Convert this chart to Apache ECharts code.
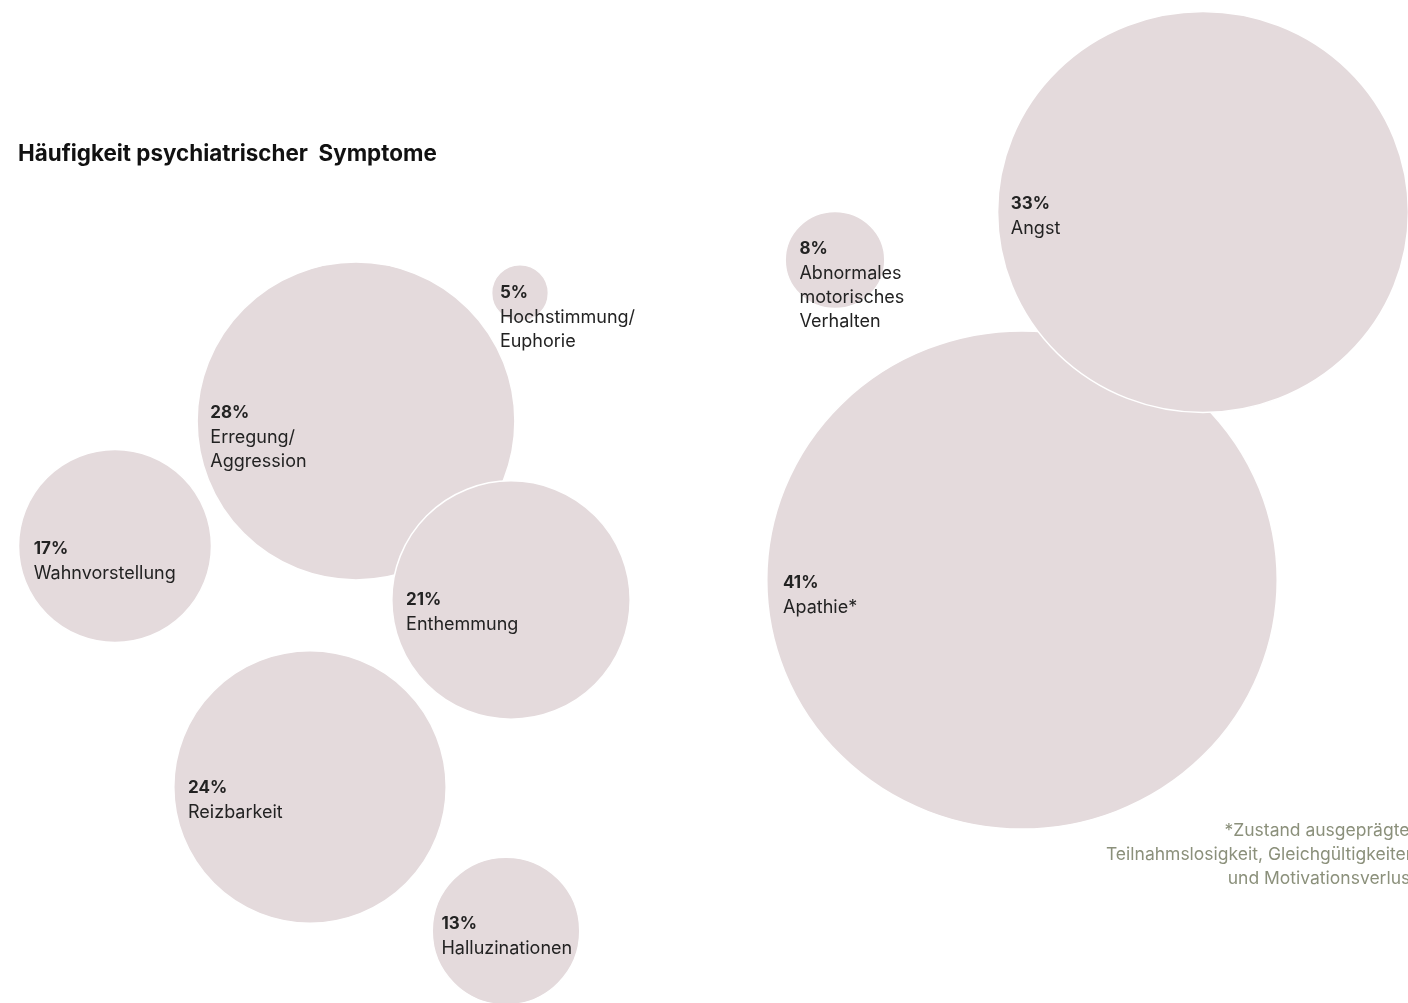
<!DOCTYPE html>
<html>
<head>
<meta charset="utf-8">
<script src="https://cdn.jsdelivr.net/npm/echarts@6/dist/echarts.min.js"></script>
<style>
html,body{margin:0;padding:0;background:#fff;}
#chart{width:1408px;height:1003px;}
</style>
</head>
<body>
<div id="chart"></div>
<script>
// ---- data ----
const titleText = 'Häufigkeit psychiatrischer  Symptome';
const footnoteLines = ['*Zustand ausgeprägter', 'Teilnahmslosigkeit, Gleichgültigkeiten', 'und Motivationsverlust'];

// left cluster (drawing order matters: later items on top)
const leftNames  = ['Wahnvorstellung', 'Erregung/\nAggression', 'Enthemmung', 'Hochstimmung/\nEuphorie', 'Reizbarkeit', 'Halluzinationen'];
const leftValues = [17, 28, 21, 5, 24, 13];
// right cluster
const rightNames  = ['Abnormales\nmotorisches\nVerhalten', 'Apathie*', 'Angst'];
const rightValues = [8, 41, 33];

// ---- layout (bubble centres in page pixels, label nudges) ----
const leftPosX = [115, 356, 511, 520, 310, 506];
const leftPosY = [546, 421, 600, 293, 787, 931];
const leftLabelPad = [16, 14, 15, 9, 15, 10];
const leftLabelDy  = [4, -7, 1, 1, 2, -6];
const rightPosX = [835, 1022, 1203];
const rightPosY = [260, 580, 212];
const rightLabelPad = [15, 17, 14];
const rightLabelDy  = [-10, 4, -7];

const LEFT_SCALE = 11.35;            // px diameter per percent
const RIGHT_SCALE = [12.45, 12.15];  // right panel drawn slightly larger

const FILL = '#e4dadc';
const TXT = '#222222';

function buildData(names, values, px, py, pads, dys, sizeFn) {
  return values.map((v, i) => {
    const s = sizeFn(v);
    const h = Array.isArray(s) ? s[1] : s;
    return {
      name: names[i],
      value: [px[i], py[i], v],
      label: { position: [pads[i], h / 2 - 12 + dys[i]] }
    };
  });
}

const labelCfg = {
  show: true,
  align: 'left',
  verticalAlign: 'top',
  formatter: p => '{p|' + p.value[2] + '%}\n{n|' + p.name.split('\n').join('}\n{n|') + '}',
  rich: {
    p: { fontFamily: 'Inter', fontWeight: 'bold', fontSize: 17, lineHeight: 24, color: TXT },
    n: { fontFamily: 'Inter', fontWeight: 'normal', fontSize: 18, lineHeight: 24, color: TXT }
  }
};

const leftSize = v => v * LEFT_SCALE;
const rightSize = v => [v * RIGHT_SCALE[0], v * RIGHT_SCALE[1]];

const footGraphics = footnoteLines.map((t, i) => ({
  type: 'text', x: 1416, y: 831 + i * 24,
  style: {
    text: t, textAlign: 'right', textVerticalAlign: 'middle', align: 'right', verticalAlign: 'middle',
    font: '17.5px Inter', fill: '#8b907b'
  }
}));

const chart = echarts.init(document.getElementById('chart'), null, { renderer: 'canvas' });
chart.setOption({
  backgroundColor: '#ffffff',
  animation: false,
  grid: { left: 0, right: 0, top: 0, bottom: 0 },
  xAxis: { type: 'value', min: 0, max: 1408, show: false },
  yAxis: { type: 'value', min: 0, max: 1003, inverse: true, show: false },
  title: {
    text: titleText, left: 18, top: 143, padding: 0,
    textStyle: { fontFamily: 'Inter', fontWeight: 'bold', fontSize: 22.4, color: '#111111' }
  },
  graphic: footGraphics,
  series: [
    {
      type: 'scatter', symbol: 'circle',
      symbolSize: (val) => leftSize(val[2]),
      itemStyle: { color: FILL, borderColor: '#ffffff', borderWidth: 1.5, opacity: 1 },
      label: labelCfg,
      emphasis: { disabled: true },
      data: buildData(leftNames, leftValues, leftPosX, leftPosY, leftLabelPad, leftLabelDy, leftSize)
    },
    {
      type: 'scatter', symbol: 'circle',
      symbolSize: (val) => rightSize(val[2]),
      itemStyle: { color: FILL, borderColor: '#ffffff', borderWidth: 1.5, opacity: 1 },
      label: labelCfg,
      emphasis: { disabled: true },
      data: buildData(rightNames, rightValues, rightPosX, rightPosY, rightLabelPad, rightLabelDy, rightSize)
    }
  ]
});
</script>
</body>
</html>
